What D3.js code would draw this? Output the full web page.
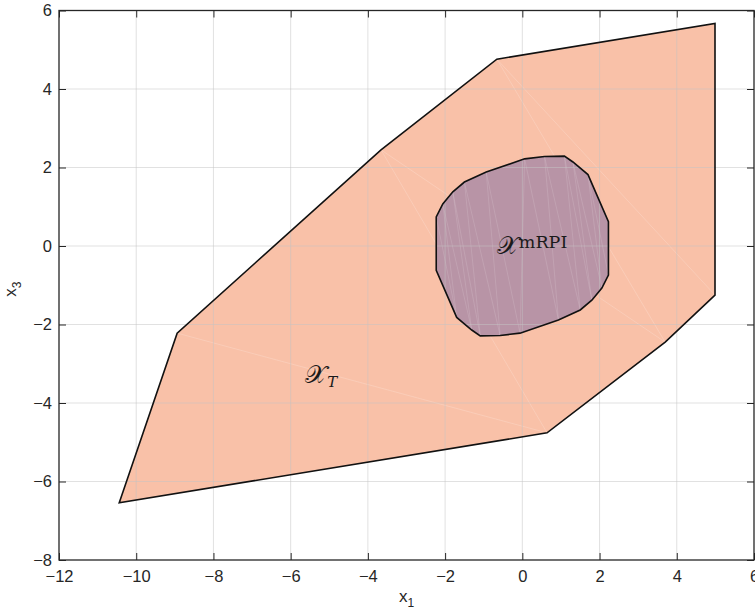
<!DOCTYPE html>
<html>
<head>
<meta charset="utf-8">
<script src="https://cdn.jsdelivr.net/npm/d3@7"></script>
<style>
  html, body { margin: 0; padding: 0; background: #fff; }
  svg { display: block; }
  .tick text { font-family: "Liberation Sans", Arial, sans-serif; font-size: 16.5px; fill: #262626; }
</style>
</head>
<body>
<svg id="chart" width="755" height="612"></svg>
<script>
// Terminal set X_T (polygon vertices, x1 / x3 coordinates)
const terminalX = [-10.44, -8.94, -3.66, -0.66, 4.99, 4.99, 3.70, 0.64];
const terminalY = [-6.54, -2.22, 2.45, 4.76, 5.67, -1.25, -2.45, -4.76];

// Minimal robust positively invariant set X^mRPI
const mrpiX = [2.23, 2.23, 2.06, 1.80, 1.50, 0.935, -0.06, -0.575, -1.09, -1.31, -1.70,
               -2.23, -2.23, -2.06, -1.80, -1.50, -0.935, 0.06, 0.575, 1.09, 1.31, 1.70];
const mrpiY = [0.62, -0.74, -1.07, -1.38, -1.63, -1.885, -2.22, -2.28, -2.29, -2.14, -1.82,
               -0.62, 0.74, 1.07, 1.38, 1.63, 1.885, 2.22, 2.28, 2.29, 2.14, 1.82];

const xTicks = [-12, -10, -8, -6, -4, -2, 0, 2, 4, 6];
const yTicks = [-8, -6, -4, -2, 0, 2, 4, 6];
const xDomain = [-12, 6];
const yDomain = [-8, 6];

const margin = { left: 59, right: 1, top: 10.5, bottom: 52 };
const W = 755, H = 612;
const svg = d3.select("#chart");

const x = d3.scaleLinear().domain(xDomain).range([margin.left, W - margin.right]);
const y = d3.scaleLinear().domain(yDomain).range([H - margin.bottom, margin.top]);

const pts = (xs, ys) => xs.map((v, i) => [x(v), y(ys[i])]);

// Zig-zag triangulation diagonals of a convex polygon (faint seams of the patch fill)
function stripDiagonals(n) {
  const out = [];
  let a = 1, b = n - 1, adv = true;
  while (b - a >= 2) {
    out.push([a, b]);
    if (adv) a++; else b--;
    adv = !adv;
  }
  return out;
}

function drawSet(xs, ys, fill, seamOpacity) {
  const p = pts(xs, ys);
  svg.append("polygon")
    .attr("points", p.map(d => d.join(",")).join(" "))
    .attr("fill", fill)
    .attr("stroke", "none");
  svg.append("g").selectAll("line")
    .data(stripDiagonals(p.length))
    .join("line")
    .attr("x1", d => p[d[0]][0]).attr("y1", d => p[d[0]][1])
    .attr("x2", d => p[d[1]][0]).attr("y2", d => p[d[1]][1])
    .attr("stroke", "#ffffff")
    .attr("stroke-opacity", seamOpacity)
    .attr("stroke-width", 0.6);
  return p;
}

const pT = drawSet(terminalX, terminalY, "#F9C1A8", 0.3);
const pM = drawSet(mrpiX, mrpiY, "#B894A6", 0.22);

// grid lines
const grid = svg.append("g").attr("stroke", "#c4c4c4").attr("stroke-opacity", 0.5).attr("stroke-width", 1);
grid.selectAll(".gx").data(xTicks.slice(1, -1)).join("line")
  .attr("x1", d => x(d)).attr("x2", d => x(d))
  .attr("y1", y(yDomain[0])).attr("y2", y(yDomain[1]));
grid.selectAll(".gy").data(yTicks.slice(1, -1)).join("line")
  .attr("y1", d => y(d)).attr("y2", d => y(d))
  .attr("x1", x(xDomain[0])).attr("x2", x(xDomain[1]));

// set boundaries
[pT, pM].forEach(p => {
  svg.append("polygon")
    .attr("points", p.map(d => d.join(",")).join(" "))
    .attr("fill", "none")
    .attr("stroke", "#111")
    .attr("stroke-width", 1.6)
    .attr("stroke-linejoin", "miter");
});

// axes (ticks pointing inward, box on)
const axisColor = "#262626";
function styleAxis(g) {
  g.select(".domain").remove();
  g.selectAll(".tick line").attr("stroke", axisColor).attr("stroke-width", 1);
}
svg.append("g").attr("transform", `translate(0,${y(yDomain[0])})`)
  .call(d3.axisBottom(x).tickValues(xTicks).tickSize(-7).tickPadding(10))
  .call(styleAxis);
svg.append("g").attr("transform", `translate(${x(xDomain[0])},0)`)
  .call(d3.axisLeft(y).tickValues(yTicks).tickSize(-7).tickPadding(7))
  .call(styleAxis);
svg.append("g").attr("transform", `translate(0,${y(yDomain[1])})`)
  .call(d3.axisTop(x).tickValues(xTicks).tickSize(-7).tickFormat(""))
  .call(styleAxis);
svg.append("g").attr("transform", `translate(${x(xDomain[1])},0)`)
  .call(d3.axisRight(y).tickValues(yTicks).tickSize(-7).tickFormat(""))
  .call(styleAxis);
svg.selectAll(".tick text").attr("fill", axisColor);

svg.append("rect")
  .attr("x", x(xDomain[0])).attr("y", y(yDomain[1]))
  .attr("width", x(xDomain[1]) - x(xDomain[0]))
  .attr("height", y(yDomain[0]) - y(yDomain[1]))
  .attr("fill", "none").attr("stroke", axisColor).attr("stroke-width", 1.3);

// axis labels
const xl = svg.append("text")
  .attr("x", (x(xDomain[0]) + x(xDomain[1])) / 2).attr("y", 602)
  .attr("text-anchor", "middle")
  .attr("font-family", "Liberation Sans, Arial, sans-serif")
  .attr("font-size", 17).attr("fill", axisColor);
xl.append("tspan").text("x");
xl.append("tspan").attr("dy", 5).attr("font-size", 12).text("1");

const yl = svg.append("text")
  .attr("transform", `translate(16,${(y(yDomain[0]) + y(yDomain[1])) / 2 + 4}) rotate(-90)`)
  .attr("text-anchor", "middle")
  .attr("font-family", "Liberation Sans, Arial, sans-serif")
  .attr("font-size", 17).attr("fill", axisColor);
yl.append("tspan").text("x");
yl.append("tspan").attr("dy", 5).attr("font-size", 12).text("3");

// set labels
const serif = "DejaVu Serif, Liberation Serif, serif";
const lt = svg.append("text")
  .attr("x", x(-5.62)).attr("y", y(-3.49))
  .attr("font-family", serif).attr("fill", "#1a1a1a");
lt.append("tspan").attr("font-size", 25).text("𝒳");
lt.append("tspan").attr("dy", 4).attr("font-size", 15).attr("font-style", "italic").text("T");

const lm = svg.append("text")
  .attr("x", x(-0.66)).attr("y", y(-0.2))
  .attr("font-family", serif).attr("fill", "#1a1a1a");
lm.append("tspan").attr("font-size", 25).text("𝒳");
lm.append("tspan").attr("dy", -6).attr("font-size", 17.5).text("mRPI");
</script>
</body>
</html>
